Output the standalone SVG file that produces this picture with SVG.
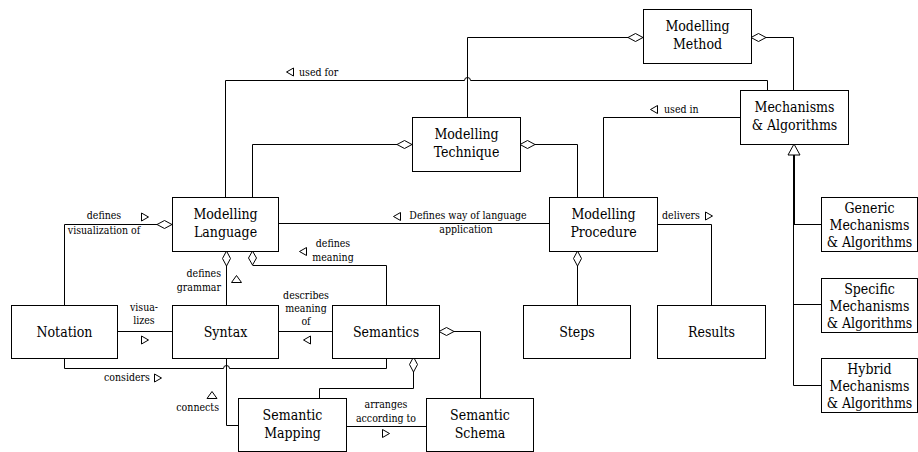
<svg xmlns="http://www.w3.org/2000/svg" width="918" height="452" viewBox="0 0 918 452">
  <style>
    .box { fill: #fff; stroke: #000; stroke-width: 1; }
    .line { fill: none; stroke: #000; stroke-width: 1; }
    .thick { fill: none; stroke: #000; stroke-width: 2; }
    .dia { fill: #fff; stroke: #000; stroke-width: 1; }
    .tri { fill: #fff; stroke: #000; stroke-width: 1; }
    text { font-family: "DejaVu Serif Condensed", "DejaVu Serif", "Liberation Serif", serif; font-stretch: condensed; fill: #000; }
    .name { font-size: 14px; text-anchor: middle; }
    .lbl { font-size: 10.5px; }
    .mid { text-anchor: middle; }
    .end { text-anchor: end; }
  </style>
  <rect width="918" height="452" fill="#fff"/>

  <!-- connectors -->
  <g id="connectors">
    <!-- aggregations into Modelling Method -->
    <path class="line" d="M467.5,117 V37.5 H628"/>
    <path class="line" d="M793.5,90 V37.5 H766"/>
    <!-- used for (with line hop) -->
    <path class="line" d="M767.5,90 V80.5 H470.5 A3 3 0 0 0 464.5,80.5 H225.5 V197"/>
    <!-- aggregations into Modelling Technique -->
    <path class="line" d="M252.5,197 V144.5 H397"/>
    <path class="line" d="M577.5,197 V144.5 H535"/>
    <!-- used in -->
    <path class="line" d="M740,117.5 H603.5 V197"/>
    <!-- defines way of language application -->
    <path class="line" d="M278,223.5 H549"/>
    <!-- delivers -->
    <path class="line" d="M657,224.5 H711.5 V305"/>
    <!-- procedure consists of steps -->
    <path class="line" d="M577.5,266 V305"/>
    <!-- notation defines visualization of language -->
    <path class="line" d="M64.5,305 V224.5 H157"/>
    <!-- language composed of syntax / semantics -->
    <path class="line" d="M226.5,266 V305"/>
    <path class="line" d="M252.5,265.5 H386.5 V305"/>
    <!-- visualizes, describes meaning of -->
    <path class="line" d="M117,331.5 H172"/>
    <path class="line" d="M278,331.5 H332"/>
    <!-- considers (with line hop) -->
    <path class="line" d="M64.5,358 V368.5 H223.5 A3 3 0 0 1 229.5,368.5 H386.5 V358"/>
    <!-- connects -->
    <path class="line" d="M226.5,358 V425.5 H238"/>
    <!-- semantics aggregations -->
    <path class="line" d="M413.5,372 V388.5 H319.5 V398"/>
    <path class="line" d="M454,331.5 H480.5 V398"/>
    <!-- arranges according to -->
    <path class="line" d="M346,426.5 H426"/>
    <!-- generalization tree -->
    <path class="thick" d="M794,155 V224.5"/>
    <path class="line" d="M793.5,224 V385.5"/>
    <path class="line" d="M793.5,224.5 H821"/>
    <path class="line" d="M793.5,304.5 H821"/>
    <path class="line" d="M793.5,385.5 H821"/>

    <!-- aggregation diamonds -->
    <polygon class="dia" points="643,37.5 635.5,33.5 628,37.5 635.5,41.5"/>
    <polygon class="dia" points="751,37.5 758.5,33.5 766,37.5 758.5,41.5"/>
    <polygon class="dia" points="412,144.5 404.5,140.5 397,144.5 404.5,148.5"/>
    <polygon class="dia" points="520,144.5 527.5,140.5 535,144.5 527.5,148.5"/>
    <polygon class="dia" points="172,224.5 164.5,220.5 157,224.5 164.5,228.5"/>
    <polygon class="dia" points="226.5,251 230.5,258.5 226.5,266 222.5,258.5"/>
    <polygon class="dia" points="252.5,251 256.5,258 252.5,265 248.5,258"/>
    <polygon class="dia" points="577.5,251 581.5,258.5 577.5,266 573.5,258.5"/>
    <polygon class="dia" points="439,331.5 446.5,327.5 454,331.5 446.5,335.5"/>
    <polygon class="dia" points="413.5,357 417.5,364.5 413.5,372 409.5,364.5"/>

    <!-- generalization arrowhead -->
    <polygon class="tri" points="794,144 800,155 788,155"/>

    <!-- reading-direction triangles -->
    <polygon class="tri" points="286.5,72 293.5,68 293.5,76"/>
    <polygon class="tri" points="650.5,109.5 657.5,105.5 657.5,113.5"/>
    <polygon class="tri" points="393.5,216.5 400.5,212.5 400.5,220.5"/>
    <polygon class="tri" points="712.5,216 705.5,212 705.5,220"/>
    <polygon class="tri" points="148.5,217 141.5,213 141.5,221"/>
    <polygon class="tri" points="236.5,275.5 241.5,282.5 231.5,282.5"/>
    <polygon class="tri" points="299.5,251.5 306.5,247.5 306.5,255.5"/>
    <polygon class="tri" points="148.5,340 141.5,336 141.5,344"/>
    <polygon class="tri" points="303.5,340 310.5,336 310.5,344"/>
    <polygon class="tri" points="161.5,378 154.5,374 154.5,382"/>
    <polygon class="tri" points="212,391.5 217,398.5 207,398.5"/>
    <polygon class="tri" points="389.5,433.5 382.5,429.5 382.5,437.5"/>

    <!-- connector labels -->
    <text class="lbl" x="299" y="76">used for</text>
    <text class="lbl" x="664" y="113">used in</text>
    <text class="lbl mid" x="468" y="219">Defines way of language</text>
    <text class="lbl mid" x="466" y="233">application</text>
    <text class="lbl" x="662" y="219">delivers</text>
    <text class="lbl mid" x="104" y="219">defines</text>
    <text class="lbl mid" x="104" y="234">visualization of</text>
    <text class="lbl end" x="221" y="277">defines</text>
    <text class="lbl end" x="221" y="291">grammar</text>
    <text class="lbl mid" x="333" y="247">defines</text>
    <text class="lbl mid" x="333" y="261">meaning</text>
    <text class="lbl mid" x="144" y="311">visua-</text>
    <text class="lbl mid" x="144" y="324">lizes</text>
    <text class="lbl mid" x="306" y="299">describes</text>
    <text class="lbl mid" x="306" y="312">meaning</text>
    <text class="lbl mid" x="306" y="325">of</text>
    <text class="lbl" x="104" y="381">considers</text>
    <text class="lbl end" x="219" y="411">connects</text>
    <text class="lbl mid" x="386" y="408">arranges</text>
    <text class="lbl mid" x="386" y="422">according to</text>
  </g>

  <!-- nodes -->
  <g id="modelling-method">
    <rect class="box" x="643.5" y="9.5" width="108" height="54"/>
    <text class="name" x="697.5" y="31">Modelling</text>
    <text class="name" x="697.5" y="49">Method</text>
  </g>
  <g id="mechanisms-algorithms">
    <rect class="box" x="740.5" y="90.5" width="108" height="54"/>
    <text class="name" x="794.5" y="112">Mechanisms</text>
    <text class="name" x="794.5" y="130">&amp; Algorithms</text>
  </g>
  <g id="modelling-technique">
    <rect class="box" x="412.5" y="117.5" width="108" height="54"/>
    <text class="name" x="466.5" y="139">Modelling</text>
    <text class="name" x="466.5" y="157">Technique</text>
  </g>
  <g id="modelling-language">
    <rect class="box" x="172.5" y="197.5" width="106" height="54"/>
    <text class="name" x="225.5" y="219">Modelling</text>
    <text class="name" x="225.5" y="237">Language</text>
  </g>
  <g id="modelling-procedure">
    <rect class="box" x="549.5" y="197.5" width="108" height="54"/>
    <text class="name" x="603.5" y="219">Modelling</text>
    <text class="name" x="603.5" y="237">Procedure</text>
  </g>
  <g id="notation">
    <rect class="box" x="11.5" y="305.5" width="106" height="53"/>
    <text class="name" x="64.5" y="337">Notation</text>
  </g>
  <g id="syntax">
    <rect class="box" x="172.5" y="305.5" width="106" height="53"/>
    <text class="name" x="225.5" y="337">Syntax</text>
  </g>
  <g id="semantics">
    <rect class="box" x="332.5" y="305.5" width="107" height="53"/>
    <text class="name" x="386" y="337">Semantics</text>
  </g>
  <g id="steps">
    <rect class="box" x="523.5" y="305.5" width="107" height="53"/>
    <text class="name" x="577" y="337">Steps</text>
  </g>
  <g id="results">
    <rect class="box" x="657.5" y="305.5" width="108" height="53"/>
    <text class="name" x="711.5" y="337">Results</text>
  </g>
  <g id="semantic-mapping">
    <rect class="box" x="238.5" y="398.5" width="108" height="53"/>
    <text class="name" x="292.5" y="420">Semantic</text>
    <text class="name" x="292.5" y="438">Mapping</text>
  </g>
  <g id="semantic-schema">
    <rect class="box" x="426.5" y="398.5" width="107" height="53"/>
    <text class="name" x="480" y="420">Semantic</text>
    <text class="name" x="480" y="438">Schema</text>
  </g>
  <g id="generic-mechanisms">
    <rect class="box" x="821.5" y="197.5" width="96" height="54"/>
    <text class="name" x="869.5" y="213">Generic</text>
    <text class="name" x="869.5" y="230">Mechanisms</text>
    <text class="name" x="869.5" y="247">&amp; Algorithms</text>
  </g>
  <g id="specific-mechanisms">
    <rect class="box" x="821.5" y="278.5" width="96" height="54"/>
    <text class="name" x="869.5" y="294">Specific</text>
    <text class="name" x="869.5" y="311">Mechanisms</text>
    <text class="name" x="869.5" y="328">&amp; Algorithms</text>
  </g>
  <g id="hybrid-mechanisms">
    <rect class="box" x="821.5" y="358.5" width="96" height="54"/>
    <text class="name" x="869.5" y="374">Hybrid</text>
    <text class="name" x="869.5" y="391">Mechanisms</text>
    <text class="name" x="869.5" y="408">&amp; Algorithms</text>
  </g>
</svg>
